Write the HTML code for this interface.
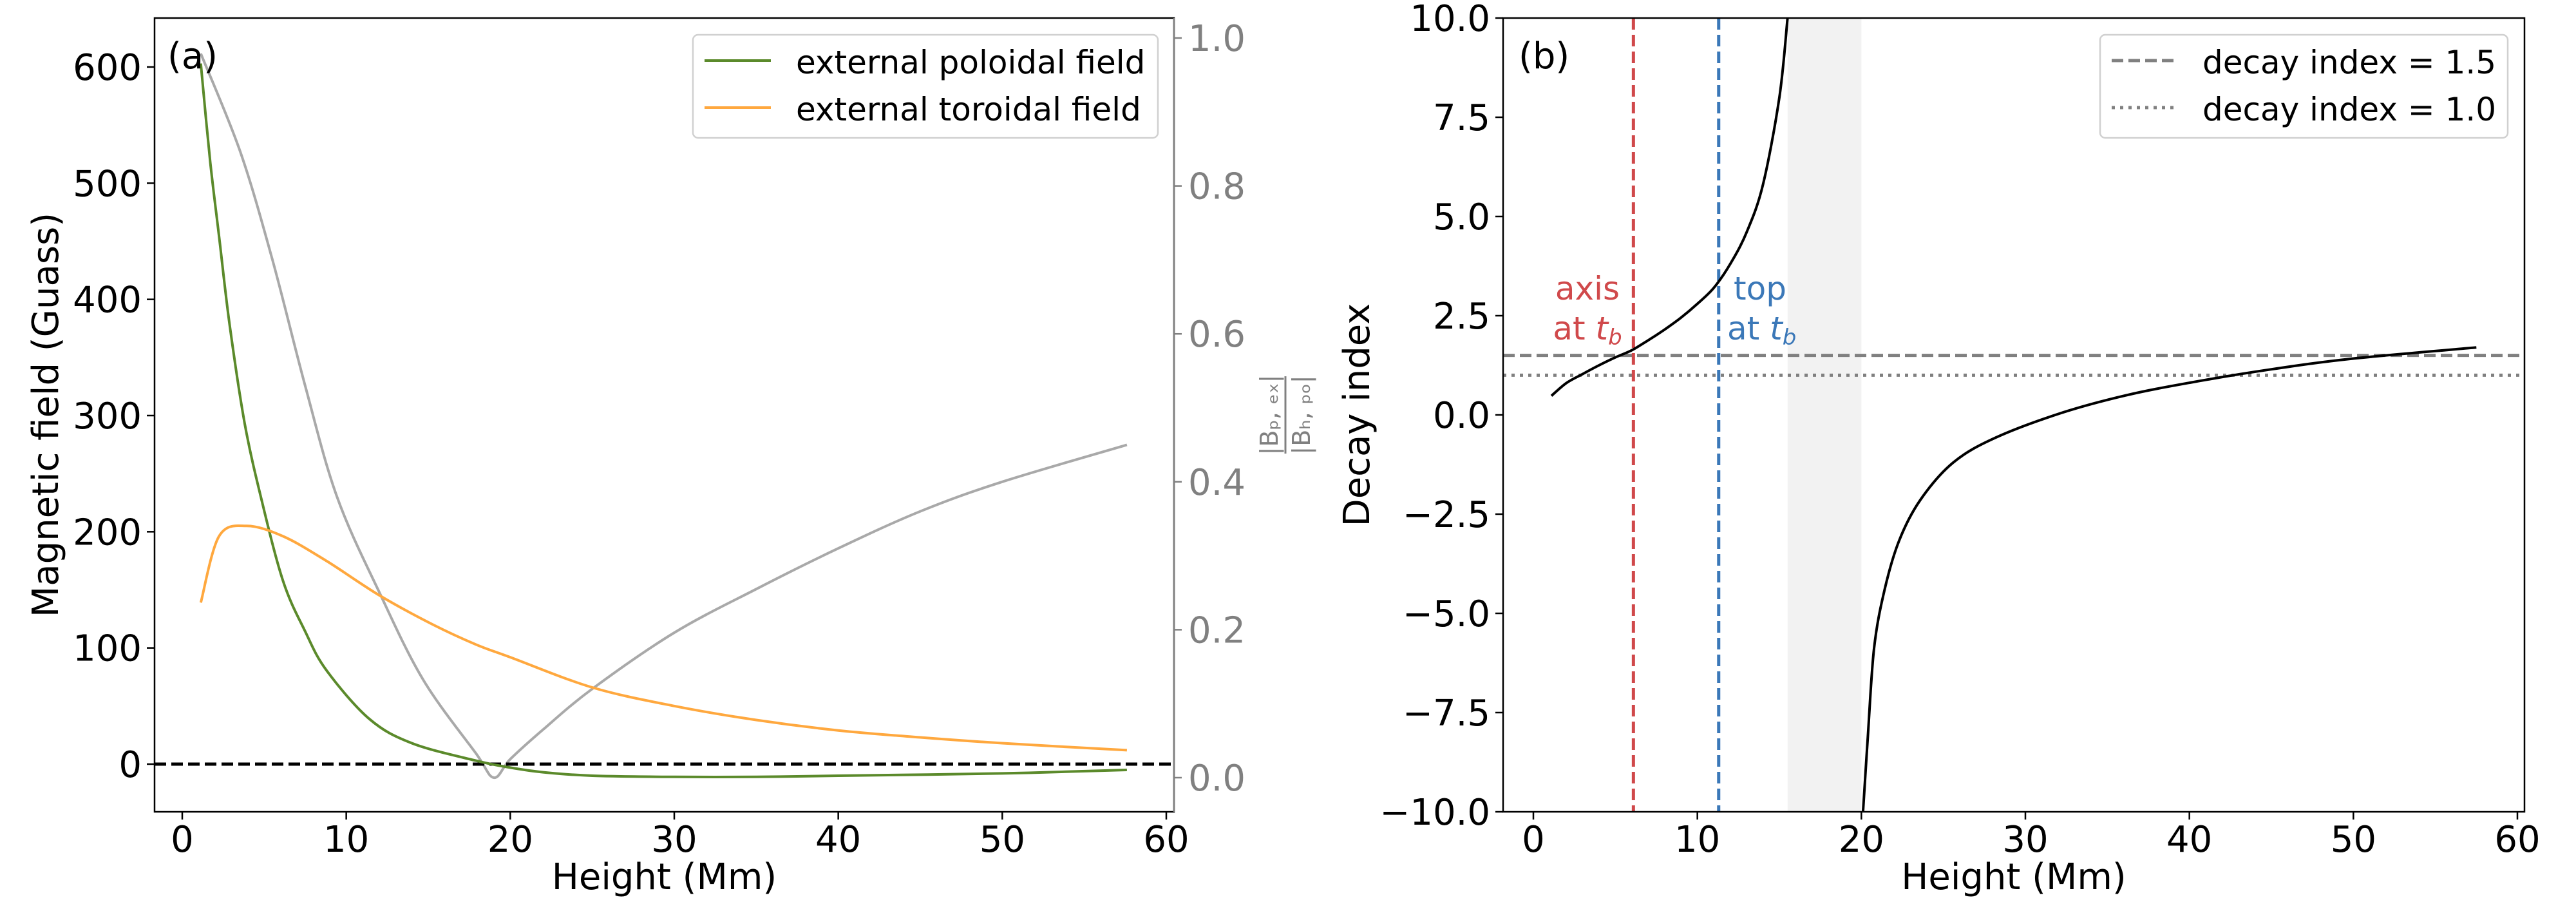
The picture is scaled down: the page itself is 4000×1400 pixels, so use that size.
<!DOCTYPE html>
<html><head><meta charset="utf-8"><style>
body{margin:0;background:#fff}
svg{display:block;font-family:"DejaVu Sans","Liberation Sans",sans-serif}
</style></head><body>
<svg id="fig" width="4000" height="1400" viewBox="0 0 4000 1400" xmlns="http://www.w3.org/2000/svg">
<rect width="4000" height="1400" fill="#fff"/>
<g id="pa"></g>
<g id="pb"></g>
</svg>
<script>
// ---- data ----
const polH = [1.13,1.71,2.24,2.89,3.81,4.86,6.16,7.47,8.78,11.4,14.0,17.9,20,22,25,30,35,40,50,57.6];
const polB = [603,518,455,378,293,226,157,115,81,39,18,3,-3,-7,-10,-11,-11,-10,-8,-5];
const torH = [1.13,2.24,3.93,6.16,8.78,12.05,15.3,17.9,20,25,30,35,40,45,50,57.6];
const torB = [139,196,205,196,175,145,120,103,92,66,50,38,29,23,18,12];
const ratH = [1.13,3.54,5.5,7.47,9.43,12.05,14.7,17.9,19.0,20,22,25,30,35,40,45,50,57.6];
const ratV = [0.979,0.846,0.70,0.532,0.38,0.249,0.132,0.033,0.0,0.025,0.065,0.12,0.196,0.255,0.31,0.36,0.40,0.45];
const decLH = [1.1,2,3,4,5,6,7,8,9,10,11,12,13,14,15,15.5];
const decLV = [0.48,0.8,1.03,1.25,1.45,1.63,1.88,2.15,2.45,2.8,3.2,3.8,4.6,5.8,8.0,10];
const decRH = [20.1,20.38,20.77,21.4,22.3,23.6,25.6,28.2,32.2,36.1,40,45,50,57.5];
const decRV = [-10,-8.2,-5.9,-4.43,-3.17,-2.14,-1.2,-0.57,0.05,0.49,0.81,1.15,1.42,1.7];
const xTicks = [0,10,20,30,40,50,60];
const yTicksA = [0,100,200,300,400,500,600];
const yTicksA2 = ["0.0","0.2","0.4","0.6","0.8","1.0"];
const yTicksB = ["−10.0","−7.5","−5.0","−2.5","0.0","2.5","5.0","7.5","10.0"];
const yTicksBVal = [-10,-7.5,-5,-2.5,0,2.5,5,7.5,10];
const axisLine = 6.1, topLine = 11.3, shade = [15.5,20];

const NS="http://www.w3.org/2000/svg";
function mk(parent,tag,attrs,text){const e=document.createElementNS(NS,tag);for(const k in attrs)e.setAttribute(k,attrs[k]);if(text!==undefined)e.textContent=text;parent.appendChild(e);return e;}
function lin(d0,d1,r0,r1){return v=>r0+(v-d0)*(r1-r0)/(d1-d0);}
function smooth(xs,ys,fx,fy){
  const p=xs.map((x,i)=>[fx(x),fy(ys[i])]);let d='M'+p[0][0].toFixed(1)+','+p[0][1].toFixed(1);
  for(let i=0;i<p.length-1;i++){const a=p[Math.max(0,i-1)],b=p[i],c=p[i+1],e=p[Math.min(p.length-1,i+2)];
    d+=' C'+(b[0]+(c[0]-a[0])/6).toFixed(1)+','+(b[1]+(c[1]-a[1])/6).toFixed(1)+' '+(c[0]-(e[0]-b[0])/6).toFixed(1)+','+(c[1]-(e[1]-b[1])/6).toFixed(1)+' '+c[0].toFixed(1)+','+c[1].toFixed(1);}
  return d;}

// ---- panel a ----
const A=document.getElementById('pa');
const ax=lin(0,60,283,1811), ay=lin(0,600,1186,104), ay2=lin(0,1,1207,59);
const L=240,R=1823,T=28,B=1260;
let e;
e=mk(A,'path',{d:smooth(ratH,ratV,ax,ay2),fill:'none',stroke:'#a9a9a9','stroke-width':4});

e=mk(A,'line',{x1:L,x2:R,y1:ay(0),y2:ay(0),stroke:'#000','stroke-width':5,'stroke-dasharray':'18,8'});

e=mk(A,'path',{d:smooth(polH,polB,ax,ay),fill:'none',stroke:'#5b8a2b','stroke-width':4});

e=mk(A,'path',{d:smooth(torH,torB,ax,ay),fill:'none',stroke:'#ffa83e','stroke-width':4});

e=mk(A,'rect',{x:L,y:T,width:R-L,height:B-T,fill:'none',stroke:'#000','stroke-width':2.5});

mk(A,'line',{x1:R,x2:R,y1:T,y2:B,stroke:'#808080','stroke-width':2.5});
xTicks.forEach(t=>{mk(A,'line',{x1:ax(t),x2:ax(t),y1:B,y2:B+12,stroke:'#000','stroke-width':2.5});
  e=mk(A,'text',{x:ax(t),y:B+62,'font-size':56,'text-anchor':'middle'},t);
  });
yTicksA.forEach(t=>{mk(A,'line',{x1:L-12,x2:L,y1:ay(t),y2:ay(t),stroke:'#000','stroke-width':2.5});
  e=mk(A,'text',{x:L-20,y:ay(t)+20,'font-size':56,'text-anchor':'end'},t);
  });
yTicksA2.forEach(t=>{mk(A,'line',{x1:R,x2:R+12,y1:ay2(+t),y2:ay2(+t),stroke:'#808080','stroke-width':2.5});
  e=mk(A,'text',{x:R+22,y:ay2(+t)+20,'font-size':56,fill:'#808080'},t);
  });
e=mk(A,'text',{x:(L+R)/2,y:1380,'font-size':56,'text-anchor':'middle'},'Height (Mm)');

e=mk(A,'text',{x:0,y:0,'font-size':56,'text-anchor':'middle',transform:'translate(90,644) rotate(-90)'},'Magnetic field (Guass)');

const fr=mk(A,'g',{transform:'translate(1996,644) rotate(-90)',fill:'#808080'});

mk(fr,'text',{x:0,y:-12,'font-size':38,'text-anchor':'middle'},'|B\u209A, \u2091\u2093|');
mk(fr,'line',{x1:-60,x2:60,y1:0,y2:0,stroke:'#808080','stroke-width':3});
mk(fr,'text',{x:0,y:38,'font-size':38,'text-anchor':'middle'},'|B\u2095, \u209A\u2092|');
e=mk(A,'text',{x:260,y:106,'font-size':56},'(a)');

const lgA=mk(A,'g',{});
mk(lgA,'rect',{x:1076,y:54,width:722,height:160,rx:8,fill:'#fff','fill-opacity':0.8,stroke:'#d0d0d0','stroke-width':2.5});
mk(lgA,'line',{x1:1094,x2:1197,y1:94,y2:94,stroke:'#5b8a2b','stroke-width':4});
mk(lgA,'text',{x:1236,y:114,'font-size':50},'external poloidal field');
mk(lgA,'line',{x1:1094,x2:1197,y1:167,y2:167,stroke:'#ffa83e','stroke-width':4});
mk(lgA,'text',{x:1236,y:187,'font-size':50},'external toroidal field');

// ---- panel b ----
const Bp=document.getElementById('pb');
const bx=lin(0,60,2381,3909), by=lin(-10,10,1260,28);
const L2=2334,R2=3920;
e=mk(Bp,'rect',{x:bx(shade[0]),y:T,width:bx(shade[1])-bx(shade[0]),height:B-T,fill:'#f2f2f2'});

e=mk(Bp,'line',{x1:L2,x2:R2,y1:by(1.5),y2:by(1.5),stroke:'#808080','stroke-width':5,'stroke-dasharray':'18,8'});

e=mk(Bp,'line',{x1:L2,x2:R2,y1:by(1),y2:by(1),stroke:'#808080','stroke-width':5,'stroke-dasharray':'5,8'});

e=mk(Bp,'line',{x1:bx(axisLine),x2:bx(axisLine),y1:T,y2:B,stroke:'#d0494b','stroke-width':5,'stroke-dasharray':'18,8'});

e=mk(Bp,'line',{x1:bx(topLine),x2:bx(topLine),y1:T,y2:B,stroke:'#3b78b8','stroke-width':5,'stroke-dasharray':'18,8'});

e=mk(Bp,'path',{d:smooth(decLH,decLV,bx,by),fill:'none',stroke:'#000','stroke-width':4});

e=mk(Bp,'path',{d:smooth(decRH,decRV,bx,by),fill:'none',stroke:'#000','stroke-width':4});

e=mk(Bp,'rect',{x:L2,y:T,width:R2-L2,height:B-T,fill:'none',stroke:'#000','stroke-width':2.5});

xTicks.forEach(t=>{mk(Bp,'line',{x1:bx(t),x2:bx(t),y1:B,y2:B+12,stroke:'#000','stroke-width':2.5});
  e=mk(Bp,'text',{x:bx(t),y:B+62,'font-size':56,'text-anchor':'middle'},t);
  });
yTicksBVal.forEach((v,i)=>{mk(Bp,'line',{x1:L2-12,x2:L2,y1:by(v),y2:by(v),stroke:'#000','stroke-width':2.5});
  e=mk(Bp,'text',{x:L2-20,y:by(v)+20,'font-size':56,'text-anchor':'end'},yTicksB[i]);
  });
e=mk(Bp,'text',{x:(L2+R2)/2,y:1380,'font-size':56,'text-anchor':'middle'},'Height (Mm)');

e=mk(Bp,'text',{x:0,y:0,'font-size':56,'text-anchor':'middle',transform:'translate(2126,644) rotate(-90)'},'Decay index');

e=mk(Bp,'text',{x:2358,y:106,'font-size':56},'(b)');

e=mk(Bp,'text',{x:2465,y:465,'font-size':50,fill:'#d0494b','text-anchor':'middle'},'axis');

e=mk(Bp,'text',{x:2465,y:527,'font-size':50,fill:'#d0494b','text-anchor':'middle'});
e.innerHTML='at <tspan font-style="italic">t</tspan><tspan font-style="italic" font-size="34" dy="8">b</tspan>';

e=mk(Bp,'text',{x:2692,y:465,'font-size':50,fill:'#3b78b8'},'top');

e=mk(Bp,'text',{x:2682,y:527,'font-size':50,fill:'#3b78b8'});
e.innerHTML='at <tspan font-style="italic">t</tspan><tspan font-style="italic" font-size="34" dy="8">b</tspan>';

const lgB=mk(Bp,'g',{});
mk(lgB,'rect',{x:3261,y:54,width:633,height:160,rx:8,fill:'#fff','fill-opacity':0.8,stroke:'#d0d0d0','stroke-width':2.5});
mk(lgB,'line',{x1:3279,x2:3382,y1:94,y2:94,stroke:'#808080','stroke-width':5,'stroke-dasharray':'18,8'});
mk(lgB,'text',{x:3420,y:114,'font-size':50},'decay index = 1.5');
mk(lgB,'line',{x1:3279,x2:3382,y1:167,y2:167,stroke:'#808080','stroke-width':5,'stroke-dasharray':'5,8'});
mk(lgB,'text',{x:3420,y:187,'font-size':50},'decay index = 1.0');
</script>
</body></html>
